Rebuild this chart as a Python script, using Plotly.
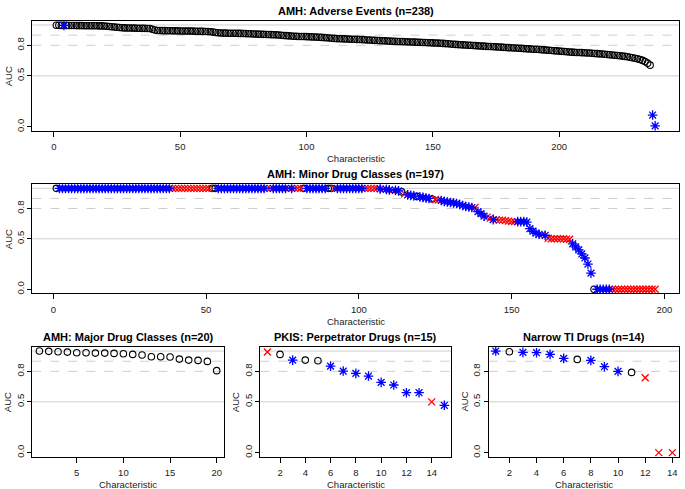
import plotly.graph_objects as go

W, H = 685, 489

# ---------------- data ----------------
ae_auc = [
    0.997, 0.997, 0.996, 0.996, 0.996, 0.995, 0.995, 0.995, 0.994, 0.994,
    0.994, 0.993, 0.993, 0.993, 0.992, 0.992, 0.992, 0.991, 0.991, 0.990,
    0.988, 0.985, 0.982, 0.980, 0.978, 0.975, 0.972, 0.971, 0.970, 0.970,
    0.969, 0.969, 0.968, 0.968, 0.967, 0.967, 0.966, 0.965, 0.958, 0.950,
    0.946, 0.945, 0.944, 0.944, 0.943, 0.943, 0.942, 0.942, 0.942, 0.941,
    0.941, 0.941, 0.940, 0.940, 0.940, 0.939, 0.939, 0.938, 0.937, 0.936,
    0.935, 0.933, 0.930, 0.926, 0.923, 0.921, 0.920, 0.920, 0.919, 0.919,
    0.918, 0.918, 0.917, 0.917, 0.916, 0.915, 0.914, 0.913, 0.912, 0.911,
    0.910, 0.909, 0.908, 0.907, 0.906, 0.905, 0.904, 0.903, 0.901, 0.899,
    0.897, 0.895, 0.893, 0.891, 0.889, 0.888, 0.887, 0.886, 0.886, 0.885,
    0.884, 0.883, 0.882, 0.881, 0.880, 0.878, 0.876, 0.874, 0.872, 0.870,
    0.868, 0.866, 0.865, 0.864, 0.863, 0.862, 0.861, 0.860, 0.859, 0.858,
    0.857, 0.856, 0.855, 0.853, 0.852, 0.850, 0.849, 0.848, 0.846, 0.845,
    0.844, 0.842, 0.841, 0.840, 0.839, 0.838, 0.837, 0.836, 0.835, 0.834,
    0.833, 0.832, 0.831, 0.830, 0.829, 0.828, 0.827, 0.826, 0.825, 0.824,
    0.823, 0.822, 0.821, 0.819, 0.817, 0.815, 0.813, 0.811, 0.809, 0.807,
    0.806, 0.804, 0.803, 0.801, 0.800, 0.798, 0.797, 0.795, 0.794, 0.792,
    0.790, 0.789, 0.788, 0.786, 0.785, 0.783, 0.782, 0.780, 0.779, 0.777,
    0.776, 0.774, 0.773, 0.771, 0.770, 0.768, 0.767, 0.765, 0.764, 0.762,
    0.761, 0.759, 0.757, 0.755, 0.753, 0.751, 0.749, 0.747, 0.745, 0.743,
    0.741, 0.739, 0.737, 0.735, 0.733, 0.731, 0.730, 0.729, 0.728, 0.727,
    0.725, 0.724, 0.722, 0.720, 0.718, 0.716, 0.714, 0.712, 0.710, 0.708,
    0.705, 0.702, 0.700, 0.697, 0.694, 0.691, 0.687, 0.683, 0.678, 0.673,
    0.667, 0.660, 0.652, 0.640, 0.625, 0.605, 0.115, 0.008,
]
ae_star_idx = [4, 237, 238]   # 1-based positions drawn as blue asterisks

minor_auc = [
    1.0, 1.0, 1.0, 1.0, 1.0, 1.0, 1.0, 1.0, 1.0, 1.0,
    1.0, 1.0, 1.0, 1.0, 1.0, 1.0, 1.0, 1.0, 1.0, 1.0,
    1.0, 1.0, 1.0, 1.0, 1.0, 1.0, 1.0, 1.0, 1.0, 1.0,
    1.0, 1.0, 1.0, 1.0, 1.0, 1.0, 1.0, 1.0, 1.0, 1.0,
    1.0, 1.0, 1.0, 1.0, 1.0, 1.0, 1.0, 1.0, 1.0, 1.0,
    1.0, 1.0, 1.0, 1.0, 1.0, 1.0, 1.0, 1.0, 1.0, 1.0,
    1.0, 1.0, 1.0, 1.0, 1.0, 1.0, 1.0, 1.0, 1.0, 1.0,
    1.0, 1.0, 1.0, 1.0, 1.0, 1.0, 1.0, 1.0, 1.0, 1.0,
    1.0, 1.0, 1.0, 1.0, 1.0, 1.0, 1.0, 1.0, 1.0, 1.0,
    1.0, 1.0, 1.0, 1.0, 1.0, 1.0, 1.0, 1.0, 1.0, 1.0,
    1.0, 1.0, 1.0, 1.0, 1.0, 1.0, 0.995, 0.99, 0.99, 0.985,
    0.98, 0.98, 0.975, 0.965, 0.945, 0.935, 0.93, 0.925, 0.92, 0.915,
    0.91, 0.905, 0.90, 0.895, 0.89, 0.885, 0.88, 0.87, 0.865, 0.86,
    0.855, 0.85, 0.84, 0.83, 0.82, 0.815, 0.81, 0.81, 0.77, 0.75,
    0.725, 0.715, 0.705, 0.69, 0.69, 0.685, 0.685, 0.68, 0.675, 0.67,
    0.67, 0.67, 0.67, 0.67, 0.665, 0.60, 0.575, 0.555, 0.545, 0.54,
    0.535, 0.505, 0.50, 0.50, 0.50, 0.50, 0.50, 0.495, 0.495, 0.45,
    0.42, 0.39, 0.35, 0.31, 0.25, 0.16, 0.0, 0.0, 0.0, 0.0,
    0.0, 0.0, 0.0, 0.0, 0.0, 0.0, 0.0, 0.0, 0.0, 0.0,
    0.0, 0.0, 0.0, 0.0, 0.0, 0.0, 0.0,
]
# o = black circle, * = blue asterisk, x = red cross (groups of ten)
minor_kind = ("o********* ********** ********** ********xx xxxxxxxxxx "
              "xoo******* *********x x*****x*xx xo*******o ox******** "
              "*xxxxx*x** x**ox***o* ***oxx**** *******x** *xx*xxxxxx "
              "x********x *xxxxxxxx* ******o*** **xxxxxxxx xxxxxxx").replace(" ", "")

major_auc = [1.0, 0.997, 0.993, 0.990, 0.984, 0.984, 0.980, 0.980, 0.977, 0.974,
             0.967, 0.961, 0.944, 0.944, 0.941, 0.921, 0.911, 0.908, 0.898, 0.807]
major_kind = "oooooooooooooooooooo"

pkis_auc = [0.99, 0.967, 0.911, 0.911, 0.905, 0.852, 0.803, 0.78, 0.754, 0.692,
            0.666, 0.59, 0.59, 0.50, 0.466]
pkis_kind = "xo*oo********x*"

nti_auc = [1.0, 0.993, 0.987, 0.984, 0.967, 0.928, 0.918, 0.908, 0.846, 0.80,
           0.79, 0.738, 0.0, 0.0]
nti_kind = "*o****o***oxxx"

titles = ["AMH: Adverse Events (n=238)", "AMH: Minor Drug Classes (n=197)",
          "AMH: Major Drug Classes (n=20)", "PKIS: Perpetrator Drugs (n=15)",
          "Narrow TI Drugs (n=14)"]
xticks_list = [[0, 50, 100, 150, 200], [0, 50, 100, 150, 200], [5, 10, 15, 20],
               [2, 4, 6, 8, 10, 12, 14], [2, 4, 6, 8, 10, 12, 14]]
y_ticks = [0.0, 0.5, 0.8]
y_tick_text = ["0.0", "0.5", "0.8"]
solid_refs = [1.0, 0.5]
dashed_refs = [0.9, 0.8]

assert len(ae_auc) == 238 and len(minor_auc) == 197 and len(minor_kind) == 197

ae_kind = "".join("*" if (i + 1) in ae_star_idx else "o" for i in range(len(ae_auc)))

series = [(ae_auc, ae_kind), (minor_auc, minor_kind), (major_auc, major_kind),
          (pkis_auc, pkis_kind), (nti_auc, nti_kind)]

# ---------------- layout (pixel boxes: x0, x1, ytop, ybottom) ----------------
boxes = [(32.4, 679.1, 20.9, 130.8),
         (32.4, 679.1, 184.3, 293.3),
         (32.3, 223.8, 347.0, 456.7),
         (260.3, 451.4, 347.0, 456.7),
         (488.7, 679.4, 347.0, 456.7)]

FONT = "Liberation Sans, Arial, Helvetica, sans-serif"
styles = {
    "o": dict(symbol="circle-open", size=6.5, color="black", lw=1.1),
    "*": dict(symbol="asterisk-open", size=8, color="#0000FF", lw=1.3),
    "x": dict(symbol="x-thin-open", size=7, color="#FF0000", lw=1.3),
}

fig = go.Figure()
shapes, annotations = [], []

for i, ((vals, kinds), box, title, xt) in enumerate(zip(series, boxes, titles, xticks_list)):
    k = i + 1
    sfx = "" if k == 1 else str(k)
    n = len(vals)
    xs = list(range(1, n + 1))
    for kind in ["o", "x", "*"]:
        sel = [j for j in range(n) if kinds[j] == kind]
        if not sel:
            continue
        st = styles[kind]
        fig.add_trace(go.Scatter(
            x=[xs[j] for j in sel], y=[vals[j] for j in sel], mode="markers",
            marker=dict(symbol=st["symbol"], size=st["size"], color=st["color"],
                        line=dict(color=st["color"], width=st["lw"])),
            xaxis="x" + sfx, yaxis="y" + sfx, showlegend=False, hoverinfo="skip"))
    pad = 0.04 * (n - 1)
    x0, x1, yt, yb = box
    axis_common = dict(showline=True, mirror=True, linecolor="black", linewidth=1,
                       ticks="outside", ticklen=5, tickwidth=1, tickcolor="black",
                       showgrid=False, zeroline=False,
                       tickfont=dict(family=FONT, size=9.5, color="#222222"))
    fig.layout["xaxis" + sfx] = dict(
        domain=[x0 / W, x1 / W], range=[1 - pad, n + pad], anchor="y" + sfx,
        tickmode="array", tickvals=xt, ticktext=[str(v) for v in xt],
        ticklabelstandoff=2, **axis_common)
    fig.layout["yaxis" + sfx] = dict(
        domain=[1 - yb / H, 1 - yt / H], range=[-0.04, 1.04], anchor="x" + sfx,
        tickmode="array", tickvals=y_ticks, ticktext=y_tick_text, tickangle=-90,
        **dict(axis_common, ticklen=4))
    for v in solid_refs + dashed_refs:
        shapes.append(dict(type="line", xref="x" + sfx + " domain", yref="y" + sfx,
                           x0=0, x1=1, y0=v, y1=v, layer="below",
                           line=dict(color="#cfcfcf", width=1,
                                     dash="solid" if v in solid_refs else "dash")))
    cx = (x0 + x1) / 2 / W
    annotations.append(dict(text="<b>" + title + "</b>", x=cx, y=1 - (yt - 10) / H,
                            xref="paper", yref="paper", showarrow=False,
                            xanchor="center", yanchor="middle",
                            font=dict(family=FONT, size=11, color="black")))
    annotations.append(dict(text="Characteristic", x=cx, y=1 - (yb + 28) / H,
                            xref="paper", yref="paper", showarrow=False,
                            xanchor="center", yanchor="middle",
                            font=dict(family=FONT, size=9.5, color="#222222")))
    annotations.append(dict(text="AUC", x=(x0 - 24) / W, y=1 - (yt + yb) / 2 / H,
                            xref="paper", yref="paper", showarrow=False, textangle=-90,
                            xanchor="center", yanchor="middle",
                            font=dict(family=FONT, size=9.5, color="#222222")))

fig.update_layout(width=W, height=H, margin=dict(l=0, r=0, t=0, b=0),
                  paper_bgcolor="white", plot_bgcolor="white",
                  shapes=shapes, annotations=annotations,
                  font=dict(family=FONT))
fig.write_html("out.html", config={"displayModeBar": False},
               post_script="document.body.style.margin='0px';document.body.style.overflow='hidden';")
